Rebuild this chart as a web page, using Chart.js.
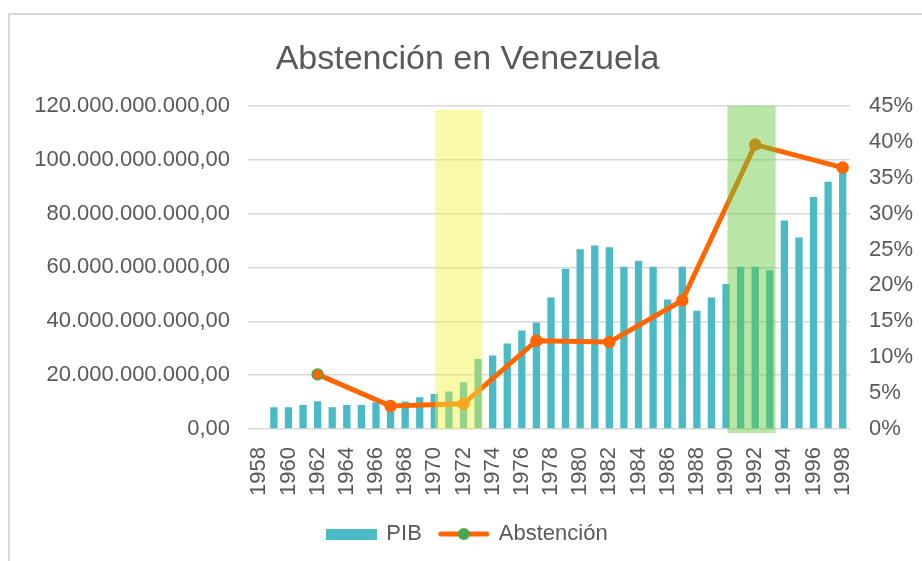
<!DOCTYPE html>
<html>
<head>
<meta charset="utf-8">
<script src="https://cdn.jsdelivr.net/npm/chart.js@4/dist/chart.umd.min.js"></script>
<style>
  html, body { margin: 0; padding: 0; background: #fff; }
  #wrap { width: 922px; height: 561px; }
</style>
</head>
<body>
<div id="wrap"><canvas id="abstencionChart" width="922" height="561"></canvas></div>
<script>
// Años del eje X (1958-1998)
const anos = [];
for (let a = 1958; a <= 1998; a++) anos.push(String(a));

// PIB en miles de millones, 1958 sin dato
const pibMilMillones = [
  null, 8.1, 8.1, 8.9, 10.3, 8.1, 8.9, 8.9, 9.9, 9.5,
  10.2, 11.8, 13.0, 13.9, 17.4, 26.0, 27.3, 31.7, 36.6, 39.5,
  48.8, 59.5, 66.7, 68.1, 67.5, 60.2, 62.5, 60.2, 48.1, 60.2,
  43.9, 48.8, 53.8, 60.2, 60.2, 58.9, 77.4, 71.1, 86.1, 91.8,
  95.7
];

// Abstención (%) en los años en que aparece el punto
const anosAbstencion = ["1962", "1967", "1972", "1977", "1982", "1987", "1992", "1998"];
const abstencion = [7.6, 3.2, 3.5, 12.3, 12.1, 17.9, 39.6, 36.4];

const ticksPorcentaje = [0, 5, 10, 15, 20, 25, 30, 35, 40, 45];

const gris = "#595959";
const teal = "#4ABAC6";
const naranja = "#FF6600";
const verde = "#46A94F";
const fuente = "'Liberation Sans', Arial, sans-serif";

function formatoPIB(v) {
  const s = Math.round(v).toString().replace(/\B(?=(\d{3})+(?!\d))/g, ".");
  return s + ",00";
}

// iconos de la leyenda
const iconoPIB = document.createElement("canvas");
iconoPIB.width = 51; iconoPIB.height = 11;
(function () {
  const c = iconoPIB.getContext("2d");
  c.fillStyle = teal;
  c.fillRect(0, 0, 51, 11);
})();
const iconoAbs = document.createElement("canvas");
iconoAbs.width = 52; iconoAbs.height = 14;
(function () {
  const c = iconoAbs.getContext("2d");
  c.strokeStyle = naranja;
  c.lineWidth = 5;
  c.lineCap = "round";
  c.beginPath(); c.moveTo(3, 7); c.lineTo(49, 7); c.stroke();
  c.fillStyle = verde;
  c.beginPath(); c.arc(26, 7, 6, 0, Math.PI * 2); c.fill();
})();

// marco, y recuadros resaltados sobre los datos
const marco = {
  id: "marco",
  beforeDraw(chart) {
    const ctx = chart.ctx;
    ctx.save();
    ctx.fillStyle = "#fff";
    ctx.fillRect(0, 0, chart.width, chart.height);
    ctx.strokeStyle = "#d9d9d9";
    ctx.lineWidth = 2;
    ctx.beginPath();
    ctx.moveTo(9, chart.height);
    ctx.lineTo(9, 14);
    ctx.lineTo(chart.width, 14);
    ctx.stroke();
    ctx.restore();
  },
  afterDatasetsDraw(chart) {
    const { ctx, chartArea, scales } = chart;
    const x = scales.x, y = scales.y;
    ctx.save();
    ctx.fillStyle = "rgba(240,245,60,0.45)";
    let l = x.getPixelForValue(12.05), r = x.getPixelForValue(15.3);
    let t = y.getPixelForValue(118.5e9), b = y.getPixelForValue(0);
    ctx.fillRect(l, t, r - l, b - t);
    ctx.fillStyle = "rgba(100,200,60,0.45)";
    l = x.getPixelForValue(32.1); r = x.getPixelForValue(35.4);
    ctx.fillRect(l, chartArea.top, r - l, chartArea.bottom + 4 - chartArea.top);
    ctx.restore();
  }
};

new Chart(document.getElementById("abstencionChart"), {
  type: "bar",
  data: {
    labels: anos,
    datasets: [
      {
        label: "PIB",
        data: pibMilMillones.map(v => v === null ? null : v * 1e9),
        backgroundColor: teal,
        barPercentage: 0.5,
        categoryPercentage: 1,
        yAxisID: "y",
        order: 1
      },
      {
        type: "line",
        label: "Abstención",
        data: anosAbstencion.map((a, i) => ({ x: a, y: abstencion[i] })),
        borderColor: naranja,
        borderWidth: 5,
        backgroundColor: naranja,
        pointBackgroundColor: naranja,
        pointBorderColor: abstencion.map((v, i) => i === 0 ? verde : naranja),
        pointBorderWidth: 1.5,
        pointRadius: 5.5,
        tension: 0,
        yAxisID: "y1",
        order: 0
      }
    ]
  },
  options: {
    responsive: false,
    animation: false,
    devicePixelRatio: 1,
    layout: { padding: { left: 22, right: 9, top: 39, bottom: 6 } },
    plugins: {
      title: {
        display: true,
        text: "Abstención en Venezuela",
        color: gris,
        font: { family: fuente, size: 34, weight: "normal" },
        padding: { top: 0, bottom: 26 }
      },
      legend: {
        position: "bottom",
        labels: {
          color: gris,
          font: { family: fuente, size: 22 },
          usePointStyle: true,
          pointStyleWidth: 48,
          padding: 18,
          generateLabels(chart) {
            const items = Chart.defaults.plugins.legend.labels.generateLabels(chart);
            items.sort((a, b) => a.datasetIndex - b.datasetIndex);
            items.forEach(it => {
              it.pointStyle = it.datasetIndex === 0 ? iconoPIB : iconoAbs;
            });
            return items;
          }
        }
      },
      tooltip: { enabled: false }
    },
    scales: {
      x: {
        grid: { display: false },
        border: { display: false },
        ticks: {
          color: gris,
          font: { family: fuente, size: 22 },
          autoSkip: false,
          minRotation: 90,
          maxRotation: 90,
          padding: 10,
          callback: (v, i) => (i % 2 === 0 ? anos[i] : "")
        },
        afterFit: s => { s.height = 76; }
      },
      y: {
        position: "left",
        min: 0,
        max: 120e9,
        grid: { color: "#d9d9d9", lineWidth: 1.5, tickLength: 4 },
        border: { display: false },
        ticks: {
          stepSize: 20e9,
          color: gris,
          font: { family: fuente, size: 22 },
          padding: 18,
          callback: v => formatoPIB(v)
        },
        afterFit: s => { s.width = 230; }
      },
      y1: {
        position: "right",
        min: 0,
        max: 45,
        grid: { display: false, drawTicks: false },
        border: { display: false },
        afterBuildTicks: s => { s.ticks = ticksPorcentaje.map(v => ({ value: v })); },
        ticks: {
          color: gris,
          font: { family: fuente, size: 22 },
          padding: 19,
          callback: v => v + "%"
        },
        afterFit: s => { s.width = 63; }
      }
    }
  },
  plugins: [marco]
});
</script>
</body>
</html>
